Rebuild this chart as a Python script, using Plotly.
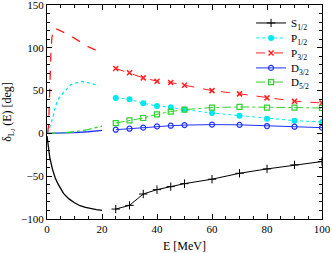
import plotly.graph_objects as go

# continuous curves (0-20 MeV)
e_s_curve = [0, 0.5, 1, 2, 3, 4, 5, 6, 7, 8, 10, 12, 14, 16, 18, 20]
s_curve = [-3, -18, -28, -42, -52, -59, -65, -70, -73.5, -76.5, -81, -84.5, -86.5, -88, -89, -89.8]

e_p1_curve = [0, 0.6, 1.2, 2.2, 3, 3.9, 5.1, 6.7, 8.7, 10.7, 12.7, 14.5, 16.6, 18.8]
p1_curve = [0, 3.5, 9.4, 19, 31, 38.7, 44.6, 50.5, 57, 59, 60.6, 59.5, 57.9, 55.2]

e_p3_curve = [0, 0.3, 0.6, 0.85, 1.1, 1.45, 1.8, 2.2, 2.65, 3.2, 4.2, 6.7, 9.1, 12.1, 15.1, 17.6, 20]
p3_curve = [0, 2, 10, 38, 70, 97, 112, 120, 123, 122.5, 121, 117, 113, 107, 101, 97.5, 94]

e_d_curve = [0, 5, 10, 15, 20]
d3_curve = [0, 0.2, 0.8, 1.9, 3.5]
d5_curve = [0, 0.5, 2, 4.5, 8.5]

# discrete points (25-100 MeV)
e_pts = [25, 30, 35, 40, 45, 50, 60, 70, 80, 90, 100]
s_pts = [-88.4, -84.1, -70.8, -65.7, -62.2, -58.7, -53.5, -46.6, -41.5, -36.8, -32.9]
p1_pts = [41.4, 39.9, 35.2, 32.0, 30.5, 27.8, 23.8, 20.7, 17.2, 14.9, 13.3]
p3_pts = [75.9, 70.8, 64.9, 61.0, 59.5, 56.3, 50.0, 46.2, 41.5, 37.6, 35.6]
d3_pts = [4.3, 5.5, 6.7, 8.2, 9.0, 9.7, 10.3, 10.0, 8.6, 7.8, 6.7]
d5_pts = [12.1, 15.3, 18.0, 22.3, 25.5, 27.8, 30.2, 30.9, 30.2, 30.2, 29.7]

names = ["S<sub>1/2</sub>", "P<sub>1/2</sub>", "P<sub>3/2</sub>", "D<sub>3/2</sub>", "D<sub>5/2</sub>"]

fig = go.Figure()

series = [
    (e_s_curve, s_curve, s_pts, "black", "solid", dict(symbol="cross-thin", size=6, line=dict(color="black", width=1))),
    (e_p1_curve, p1_curve, p1_pts, "#00e8f0", "dot", dict(symbol="circle", size=6, color="#00e8f0")),
    (e_p3_curve, p3_curve, p3_pts, "#ff2020", "dash", dict(symbol="x-thin", size=5, line=dict(color="#ff2020", width=1.5))),
    (e_d_curve, d3_curve, d3_pts, "#2030ff", "solid", dict(symbol="circle-open", size=5, color="#2030ff", line=dict(width=1.2))),
    (e_d_curve, d5_curve, d5_pts, "#30d030", "dashdot", dict(symbol="square-open", size=5, color="#30d030", line=dict(width=1.2))),
]

legend_ids = ["legend", "legend2", "legend3", "legend4", "legend5"]
legend_rows = [0.916, 0.846, 0.776, 0.706, 0.640]

for i, (ex, cy, py, col, dash, mk) in enumerate(series):
    fig.add_trace(go.Scatter(x=ex, y=cy, mode="lines", line=dict(color=col, width=1.3, dash=dash),
                             showlegend=False, hoverinfo="skip"))
    fig.add_trace(go.Scatter(x=e_pts, y=py, mode="lines+markers", name=names[i], legend=legend_ids[i],
                             line=dict(color=col, width=1, dash=dash), marker=mk))

axis_common = dict(
    showline=True, linecolor="black", linewidth=1, mirror="allticks",
    ticks="inside", ticklen=5, tickcolor="black", showgrid=False, zeroline=False,
    ticklabeloverflow="allow", automargin=False,
    tickfont=dict(family="Liberation Serif", size=11, color="black"),
)

fig.update_xaxes(range=[0, 100], dtick=20, tick0=0,
                 minor=dict(dtick=5, ticks="inside", ticklen=3, tickcolor="black"),
                 title=dict(text="E [MeV]", font=dict(family="Liberation Serif", size=12, color="black")),
                 **axis_common)
fig.update_yaxes(range=[-100, 150], dtick=50, tick0=0,
                 minor=dict(dtick=10, ticks="inside", ticklen=3, tickcolor="black"),
                 title=dict(text="δ<sub>L<sub>J</sub></sub> (E) [deg]", font=dict(family="Liberation Serif", size=12, color="black")),
                 **axis_common)

legend_style = dict(x=0.742, xanchor="left", yanchor="middle", bgcolor="rgba(0,0,0,0)",
                    font=dict(family="Liberation Serif", size=11, color="black"),
                    itemwidth=30, borderwidth=0)
layout_legends = {lid: dict(y=yy, **legend_style) for lid, yy in zip(legend_ids, legend_rows)}

fig.update_layout(
    width=332, height=253,
    margin=dict(l=47, r=10, t=5, b=34),
    paper_bgcolor="white", plot_bgcolor="white",
    **layout_legends,
)

fig.write_html("out.html", config={"displayModeBar": False},
               post_script="document.body.style.margin='0';document.body.style.overflow='hidden';")
